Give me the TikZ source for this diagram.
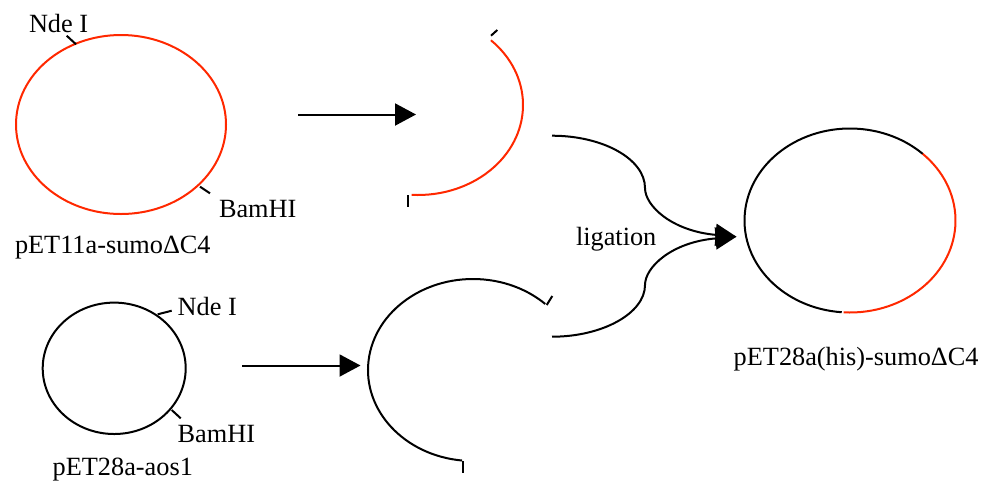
\documentclass[tikz,border=0pt]{standalone}
\usepackage{fontspec}
\setmainfont{Liberation Serif}
\usetikzlibrary{arrows.meta}
\definecolor{insertred}{RGB}{255,40,0}

\begin{document}
\begin{tikzpicture}[x=0.5pt, y=-0.5pt, line width=1pt,
  lbl/.style={inner sep=0pt, anchor=base west, font=\fontsize{13.15}{15}\selectfont},
  insert/.style={insertred},
  cutarrow/.style={-{Triangle[length=10.5pt, width=11pt]}}]
\useasboundingbox (0,0) rectangle (984,494);

% pET11a-sumoDC4 (red, cut with Nde I / BamHI)
\coordinate (S) at (121,124.5);
\draw[insert] (S) ellipse[x radius=105, y radius=89.5];
\draw (76,44.3) -- (66.7,35.7);
\draw (200,186.7) -- (210,193.3);
\node[lbl] (S_nde) at (28,32) {Nde I};
\node[lbl] (S_bam) at (218,217) {BamHI};
\node[lbl] (S_name) at (14,253.3) {pET11a-sumoΔC4};

% pET28a-aos1 (black vector)
\coordinate (V) at (114.2,368.3);
\draw (V) ellipse[x radius=71.5, y radius=65.7];
\draw (157.7,314.3) -- (171.7,310.7);
\draw (171.7,410) -- (180.7,418.3);
\node[lbl] (V_nde) at (176.7,315) {Nde I};
\node[lbl] (V_bam) at (176.7,442.3) {BamHI};
\node[lbl] (V_name) at (51.7,475) {pET28a-aos1};

% digestion arrows
\coordinate (A1s) at (298,114.5);
\coordinate (A1e) at (416,114.5);
\draw[cutarrow] (A1s) -- (A1e);
\coordinate (A2s) at (242,365.5);
\coordinate (A2e) at (360.5,365.5);
\draw[cutarrow] (A2s) -- (A2e);

% insert fragment
\coordinate (F1) at (418,105);
\draw[insert] (F1) ++(-46:105 and 90) arc[start angle=-46, end angle=93.5, x radius=105, y radius=90];
\draw (491,35.7) -- (497.3,30);
\draw (408.3,195) -- (408.3,206.7);

% vector fragment
\coordinate (F2) at (473,370);
\draw (F2) ++(96:105 and 91) arc[start angle=96, end angle=313.5, x radius=105, y radius=91];
\draw (546.7,305) -- (552.3,296);
\draw (463.3,461) -- (463.3,472.7);

% ligation
\coordinate (L1) at (552,135.7);
\coordinate (L2) at (552,336.7);
\coordinate (LT) at (736.5,236.7);
\draw[cutarrow] (L1) .. controls (603,135.7) and (645,159) .. (645,188)
  .. controls (645,206) and (672,231) .. (LT);
\draw[cutarrow] (L2) .. controls (603,336.7) and (645,313) .. (645,285)
  .. controls (645,267) and (672,242) .. (LT);
\node[lbl] (lig) at (575,245) {ligation};

% pET28a(his)-sumoDC4
\coordinate (R) at (850,220.5);
\draw[insert] (R) ++(-46.5:105.5 and 92) arc[start angle=-46.5, end angle=93.5, x radius=105.5, y radius=92];
\draw (R) ++(94.5:105.5 and 92) arc[start angle=94.5, end angle=313.5, x radius=105.5, y radius=92];
\node[lbl] (R_name) at (732.7,365) {pET28a(his)-sumoΔC4};
\end{tikzpicture}
\end{document}
